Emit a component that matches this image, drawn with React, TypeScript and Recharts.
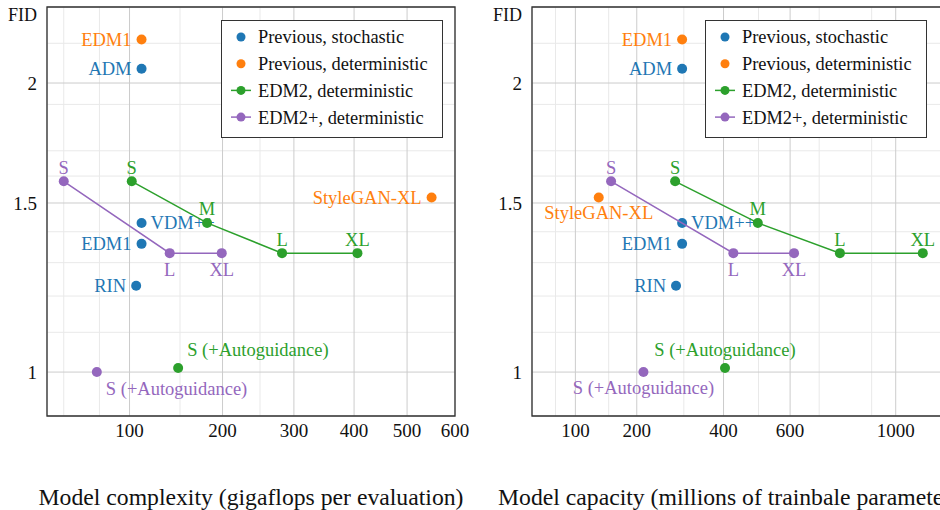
import React from 'react';
import { ScatterChart, Scatter, XAxis, YAxis, CartesianGrid, ReferenceArea, Legend } from 'recharts';

const BLUE = '#1f77b4';
const ORANGE = '#ff7f0e';
const GREEN = '#2ca02c';
const PURPLE = '#9467bd';
const FONT = '"Liberation Serif", "Times New Roman", serif';

// Previous work, stochastic sampling
const stochNames = ['ADM', 'VDM++', 'EDM1', 'RIN'];
const stochFid = [2.07, 1.43, 1.36, 1.23];
const stochGflops = [111, 111, 111, 106];
const stochParams = [296, 296, 296, 282];

// Previous work, deterministic sampling
const detNames = ['EDM1', 'StyleGAN-XL'];
const detFid = [2.22, 1.52];
const detGflops = [111, 550];
const detParams = [296, 134];

// EDM2 model sizes
const edm2Sizes = ['S', 'M', 'L', 'XL'];
const edm2Fid = [1.58, 1.43, 1.33, 1.33];
const edm2Gflops = [102, 181, 282, 406];
const edm2Params = [280, 498, 776, 1119];

// EDM2+ model sizes
const edm2pSizes = ['S', 'L', 'XL'];
const edm2pFid = [1.58, 1.33, 1.33];
const edm2pGflops = [50, 139, 199];
const edm2pParams = [154, 427, 613];

// autoguidance variants
const agNames = ['S (+Autoguidance)'];
const edm2AgFid = [1.01];
const edm2AgGflops = [148];
const edm2AgParams = [404];
const edm2pAgFid = [1.0];
const edm2pAgGflops = [73];
const edm2pAgParams = [213];

const fidTicks = [1, 1.5, 2];
const fidMinor = [1.1, 1.2, 1.3, 1.4, 1.6, 1.7, 1.8, 1.9, 2.2];
const gflopsTicks = [100, 200, 300, 400, 500, 600];
const gflopsMinor = [50, 75, 150, 250];
const paramsTicks = [100, 200, 400, 600, 1000];
const paramsMinor = [75, 150, 300, 500, 700, 800, 900];

const legendItems = [
  { label: 'Previous, stochastic', color: BLUE, line: false },
  { label: 'Previous, deterministic', color: ORANGE, line: false },
  { label: 'EDM2, deterministic', color: GREEN, line: true },
  { label: 'EDM2+, deterministic', color: PURPLE, line: true },
];

const toPoints = (names: string[], xs: number[], ys: number[]) =>
  names.map((name, i) => ({ name, x: xs[i], y: ys[i] }));

// label offsets: [dx, dy, anchor]
const OFFSETS: Record<string, [number, number, string]> = {
  l: [-10, 0, 'end'],
  r: [9, 0, 'start'],
  t: [0, -14, 'middle'],
  b: [0, 16, 'middle'],
  tr: [9, -18, 'start'],
  br: [9, 16, 'start'],
  tc: [0, -18, 'middle'],
  bc: [0, 15, 'middle'],
};

const makeDot = (color: string, place: Record<string, string>) => (props: any) => {
  const { cx, cy, payload } = props;
  const [dx, dy, anchor] = OFFSETS[place[payload.name]];
  return (
    <g>
      <circle cx={cx} cy={cy} r={5} fill={color} />
      <text x={cx + dx} y={cy + dy} dy="0.35em" textAnchor={anchor} fill={color} fontSize={18.5} fontFamily={FONT}>
        {payload.name}
      </text>
    </g>
  );
};

const LegendBox = () => (
  <svg width={222} height={118} style={{ display: 'block' }}>
    <rect x={0.5} y={0.5} width={221} height={117} fill="#fff" stroke="#333" />
    {legendItems.map((it, i) => {
      const y = 17 + i * 26.7;
      return (
        <g key={it.label}>
          {it.line && <line x1={10} x2={30} y1={y} y2={y} stroke={it.color} strokeWidth={1.5} />}
          <circle cx={20} cy={y} r={4.5} fill={it.color} />
          <text x={37} y={y} dy="0.35em" fontSize={18.4} fill="#111" fontFamily={FONT}>{it.label}</text>
        </g>
      );
    })}
  </svg>
);

const AxisTitle = (props: any) => {
  const { viewBox, text, align } = props;
  const { x, y, width } = viewBox;
  const tx = align === 'middle' ? x + width / 2 : x - 34;
  return (
    <text x={tx} y={y + 81} dy="0.35em" textAnchor={align} fontSize={23.7} fill="#111" fontFamily={FONT}>
      {text}
    </text>
  );
};

const FidLabel = (props: any) => {
  const { viewBox } = props;
  return (
    <text x={viewBox.x + viewBox.width - 10} y={viewBox.y + 8} dy="0.35em" textAnchor="end" fontSize={18} fill="#111" fontFamily={FONT}>
      FID
    </text>
  );
};

interface PanelProps {
  width: number;
  yWidth: number;
  right: number;
  domain: [number, number];
  ticks: number[];
  minor: number[];
  xs: { stoch: number[]; det: number[]; edm2: number[]; edm2p: number[]; edm2Ag: number[]; edm2pAg: number[] };
  place: any;
  title: string;
  titleAlign: string;
  legendLeft: number;
}

const Panel: React.FC<PanelProps> = ({ width, yWidth, right, domain, ticks, minor, xs, place, title, titleAlign, legendLeft }) => (
  <ScatterChart width={width} height={510} margin={{ top: 7, right, bottom: 0, left: 0 }}>
    <CartesianGrid verticalValues={minor} horizontalValues={fidMinor} stroke="#e9e9e9" strokeWidth={1} />
    <CartesianGrid stroke="#cccccc" strokeWidth={1} />
    <XAxis
      type="number"
      dataKey="x"
      scale="sqrt"
      domain={domain}
      allowDataOverflow
      ticks={ticks}
      height={94}
      tickSize={0}
      tickMargin={8}
      axisLine={false}
      tickLine={false}
      tick={{ fontSize: 19, fill: '#111', fontFamily: FONT }}
      label={<AxisTitle text={title} align={titleAlign} />}
    />
    <YAxis
      type="number"
      dataKey="y"
      scale="log"
      domain={[0.9, 2.4]}
      allowDataOverflow
      ticks={fidTicks}
      width={yWidth}
      tickSize={0}
      tickMargin={10}
      axisLine={false}
      tickLine={false}
      tick={{ fontSize: 19, fill: '#111', fontFamily: FONT }}
      label={<FidLabel />}
    />
    <Scatter data={toPoints(stochNames, xs.stoch, stochFid)} fill={BLUE} shape={makeDot(BLUE, place.stoch)} isAnimationActive={false} />
    <Scatter data={toPoints(detNames, xs.det, detFid)} fill={ORANGE} shape={makeDot(ORANGE, place.det)} isAnimationActive={false} />
    <Scatter data={toPoints(edm2Sizes, xs.edm2, edm2Fid)} fill={GREEN} line={{ stroke: GREEN, strokeWidth: 1.5 }} lineType="joint" shape={makeDot(GREEN, place.edm2)} isAnimationActive={false} />
    <Scatter data={toPoints(edm2pSizes, xs.edm2p, edm2pFid)} fill={PURPLE} line={{ stroke: PURPLE, strokeWidth: 1.5 }} lineType="joint" shape={makeDot(PURPLE, place.edm2p)} isAnimationActive={false} />
    <Scatter data={toPoints(agNames, xs.edm2Ag, edm2AgFid)} fill={GREEN} shape={makeDot(GREEN, place.edm2Ag)} isAnimationActive={false} />
    <Scatter data={toPoints(agNames, xs.edm2pAg, edm2pAgFid)} fill={PURPLE} shape={makeDot(PURPLE, place.edm2pAg)} isAnimationActive={false} />
    <ReferenceArea x1={domain[0]} x2={domain[1]} y1={0.9} y2={2.4} fill="none" stroke="#333" strokeWidth={1.3} />
    <Legend
      layout="vertical"
      align="center"
      verticalAlign="middle"
      content={() => <LegendBox />}
      wrapperStyle={{ left: legendLeft, top: 20, width: 222, height: 118 }}
    />
  </ScatterChart>
);

const leftPlace = {
  stoch: { ADM: 'l', 'VDM++': 'r', EDM1: 'l', RIN: 'l' },
  det: { EDM1: 'l', 'StyleGAN-XL': 'l' },
  edm2: { S: 't', M: 't', L: 't', XL: 't' },
  edm2p: { S: 't', L: 'b', XL: 'b' },
  edm2Ag: { 'S (+Autoguidance)': 'tr' },
  edm2pAg: { 'S (+Autoguidance)': 'br' },
};

const rightPlace = {
  stoch: { ADM: 'l', 'VDM++': 'r', EDM1: 'l', RIN: 'l' },
  det: { EDM1: 'l', 'StyleGAN-XL': 'bc' },
  edm2: { S: 't', M: 't', L: 't', XL: 't' },
  edm2p: { S: 't', L: 'b', XL: 'b' },
  edm2Ag: { 'S (+Autoguidance)': 'tc' },
  edm2pAg: { 'S (+Autoguidance)': 'bc' },
};

export default function App() {
  return (
    <div style={{ position: 'absolute', left: 0, top: 0, width: 940, height: 510, overflow: 'hidden', background: '#fff', fontFamily: FONT }}>
      <div style={{ position: 'absolute', left: 0, top: 0 }}>
        <Panel
          width={470}
          yWidth={47}
          right={15}
          domain={[40, 600]}
          ticks={gflopsTicks}
          minor={gflopsMinor}
          xs={{ stoch: stochGflops, det: detGflops, edm2: edm2Gflops, edm2p: edm2pGflops, edm2Ag: edm2AgGflops, edm2pAg: edm2pAgGflops }}
          place={leftPlace}
          title="Model complexity (gigaflops per evaluation)"
          titleAlign="middle"
          legendLeft={221}
        />
      </div>
      <div style={{ position: 'absolute', left: 470, top: 0 }}>
        <Panel
          width={520}
          yWidth={62}
          right={39}
          domain={[50, 1250]}
          ticks={paramsTicks}
          minor={paramsMinor}
          xs={{ stoch: stochParams, det: detParams, edm2: edm2Params, edm2p: edm2pParams, edm2Ag: edm2AgParams, edm2pAg: edm2pAgParams }}
          place={rightPlace}
          title="Model capacity (millions of trainbale parameters)"
          titleAlign="start"
          legendLeft={235}
        />
      </div>
    </div>
  );
}
